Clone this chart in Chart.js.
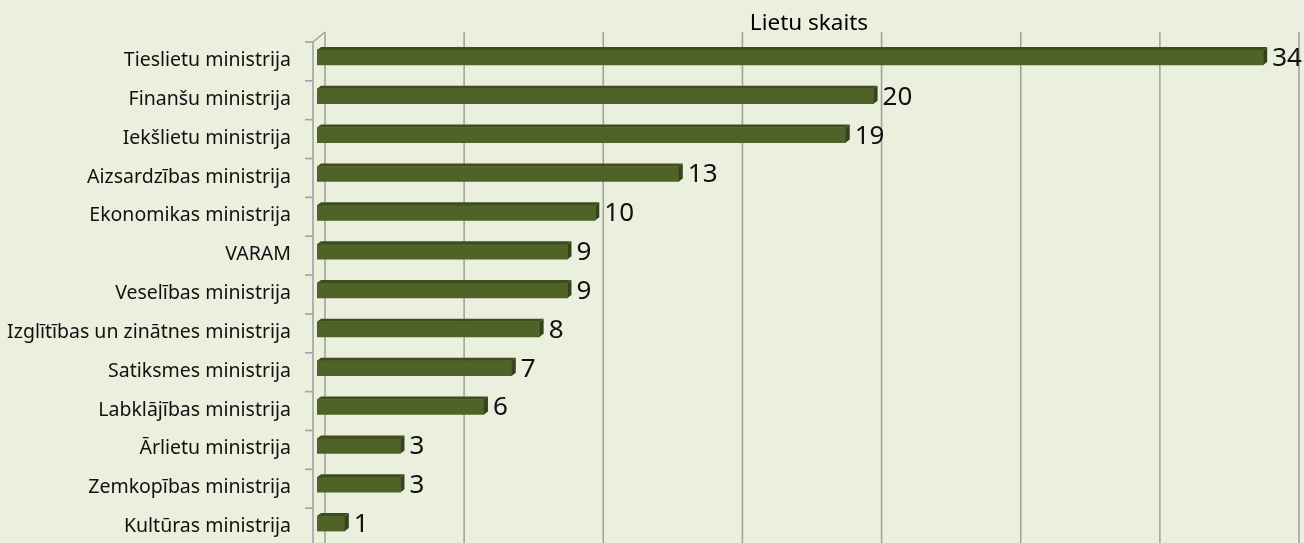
<!DOCTYPE html>
<html>
<head>
<meta charset="utf-8">
<script src="https://cdn.jsdelivr.net/npm/chart.js@4"></script>
<style>
  html, body { margin: 0; padding: 0; background: #ebefde; }
  canvas { display: block; }
</style>
</head>
<body>
<canvas id="chart" width="1304" height="543"></canvas>
<script>
// Lietu skaits pa ministrijām
const categories = [
    'Tieslietu ministrija',
    'Finanšu ministrija',
    'Iekšlietu ministrija',
    'Aizsardzības ministrija',
    'Ekonomikas ministrija',
    'VARAM',
    'Veselības ministrija',
    'Izglītības un zinātnes ministrija',
    'Satiksmes ministrija',
    'Labklājības ministrija',
    'Ārlietu ministrija',
    'Zemkopības ministrija',
    'Kultūras ministrija',
];
const caseCounts = [34, 20, 19, 13, 10, 9, 9, 8, 7, 6, 3, 3, 1];
const gridValues = [0, 5, 10, 15, 20, 25, 30, 35];
const chartTitle = 'Lietu skaits';

const BAR = '#4f6228';
const BAR_TOP = '#3e4d1f';
const BAR_SIDE = '#36431a';
const LINE = '#a3a3a3';
const FONT = '"Noto Sans", sans-serif';

// fake 3D: back wall offset and bar depth
const WALL_DX = 8;
const WALL_DY = 10;
const BAR_DX = 4;
const BAR_DY = 3;

const frame3d = {
    id: 'frame3d',
    beforeDatasetsDraw(chart) {
        const { ctx, chartArea, scales } = chart;
        const x = scales.x;
        const bottom = chart.height;
        ctx.save();
        ctx.strokeStyle = LINE;
        ctx.lineWidth = 1.6;
        // back wall gridlines
        gridValues.forEach(v => {
            const px = x.getPixelForValue(v) + WALL_DX;
            ctx.beginPath();
            ctx.moveTo(px, chartArea.top - 6);
            ctx.lineTo(px, bottom);
            ctx.stroke();
        });
        // front category axis with ticks
        const fx = chartArea.left - 4;
        const fy = chartArea.top + 4;
        const band = (chartArea.bottom - chartArea.top) / categories.length;
        ctx.beginPath();
        ctx.moveTo(fx, bottom);
        ctx.lineTo(fx, fy);
        ctx.lineTo(fx + WALL_DX + 4, fy - WALL_DY);
        ctx.stroke();
        for (let i = 0; i <= categories.length; i++) {
            const ty = fy + i * band;
            ctx.beginPath();
            ctx.moveTo(fx - 8, ty);
            ctx.lineTo(fx, ty);
            ctx.stroke();
        }
        // title, centred over the plot wall
        ctx.fillStyle = '#000000';
        ctx.font = '22.5px ' + FONT;
        ctx.textAlign = 'center';
        ctx.textBaseline = 'middle';
        ctx.fillText(chartTitle, (chartArea.left + chartArea.right) / 2 + 5, 24);
        ctx.restore();
    },
    afterDatasetsDraw(chart) {
        const { ctx } = chart;
        const meta = chart.getDatasetMeta(0);
        ctx.save();
        meta.data.forEach((bar, i) => {
            const { x, y, base, height } = bar.getProps(['x', 'y', 'base', 'height'], true);
            const top = y - height / 2;
            const bot = y + height / 2;
            // top face
            ctx.fillStyle = BAR_TOP;
            ctx.beginPath();
            ctx.moveTo(base, top);
            ctx.lineTo(base + BAR_DX, top - BAR_DY);
            ctx.lineTo(x + BAR_DX, top - BAR_DY);
            ctx.lineTo(x, top);
            ctx.closePath();
            ctx.fill();
            // right face
            ctx.fillStyle = BAR_SIDE;
            ctx.beginPath();
            ctx.moveTo(x, top);
            ctx.lineTo(x + BAR_DX, top - BAR_DY);
            ctx.lineTo(x + BAR_DX, bot - BAR_DY);
            ctx.lineTo(x, bot);
            ctx.closePath();
            ctx.fill();
            // value label
            ctx.fillStyle = '#111111';
            ctx.font = '26px ' + FONT;
            ctx.textAlign = 'left';
            ctx.textBaseline = 'middle';
            ctx.fillText(String(caseCounts[i]), x + BAR_DX + 5, y + 1);
        });
        ctx.restore();
    },
};

new Chart(document.getElementById('chart'), {
    type: 'bar',
    data: {
        labels: categories,
        datasets: [{
            data: caseCounts,
            backgroundColor: BAR,
            borderWidth: 0,
            barThickness: 15,
        }],
    },
    options: {
        indexAxis: 'y',
        responsive: false,
        animation: false,
        layout: { padding: { top: 38, right: 13, bottom: -2, left: 0 } },
        plugins: {
            legend: { display: false },
            tooltip: { enabled: false },
            title: { display: false },
        },
        scales: {
            x: {
                min: 0,
                max: 35,
                ticks: { display: false, stepSize: 5 },
                grid: { display: false, drawTicks: false },
                border: { display: false },
                afterFit(scale) { scale.height = 0; },
            },
            y: {
                grid: { display: false, drawTicks: false },
                border: { display: false },
                ticks: {
                    color: '#111111',
                    padding: 26,
                    labelOffset: 3,
                    font: { family: FONT, size: 19.5 },
                },
                afterFit(scale) {
                    scale.width = 317;
                    scale.paddingTop = 0;
                    scale.paddingBottom = 0;
                },
            },
        },
    },
    plugins: [frame3d],
});
</script>
</body>
</html>
